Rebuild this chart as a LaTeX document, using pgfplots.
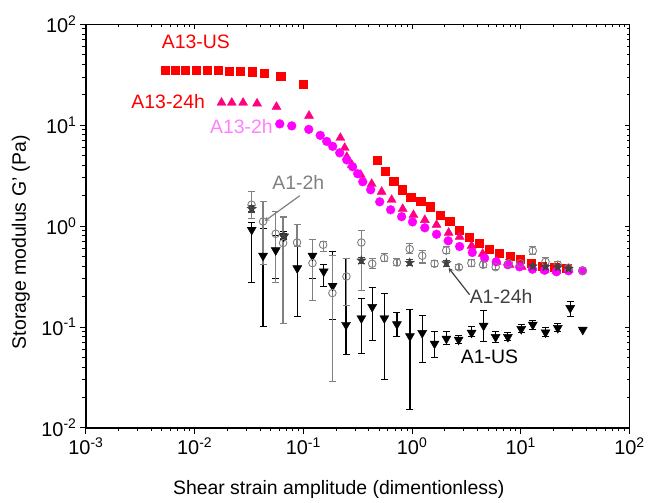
\documentclass[border=0pt]{standalone}
\usepackage{fontspec}
\setmainfont{Liberation Sans}
\usepackage{pgfplots}
\usepackage{pgfplotstable}
\pgfplotsset{compat=1.18}
\definecolor{a13us}{RGB}{255,0,0}
\definecolor{a13usbar}{RGB}{255,110,110}
\definecolor{a1324}{RGB}{255,0,128}
\definecolor{a132}{RGB}{255,0,255}
\definecolor{a132lab}{RGB}{255,128,255}
\definecolor{a12}{RGB}{128,128,128}
\definecolor{a124}{RGB}{64,64,64}

\pgfdeclareplotmark{fstar}{%
\pgfpathmoveto{\pgfpointpolar{90}{\pgfplotmarksize}}%
\pgfpathlineto{\pgfpointpolar{126}{0.42\pgfplotmarksize}}%
\pgfpathlineto{\pgfpointpolar{162}{\pgfplotmarksize}}%
\pgfpathlineto{\pgfpointpolar{198}{0.42\pgfplotmarksize}}%
\pgfpathlineto{\pgfpointpolar{234}{\pgfplotmarksize}}%
\pgfpathlineto{\pgfpointpolar{270}{0.42\pgfplotmarksize}}%
\pgfpathlineto{\pgfpointpolar{306}{\pgfplotmarksize}}%
\pgfpathlineto{\pgfpointpolar{342}{0.42\pgfplotmarksize}}%
\pgfpathlineto{\pgfpointpolar{18}{\pgfplotmarksize}}%
\pgfpathlineto{\pgfpointpolar{54}{0.42\pgfplotmarksize}}%
\pgfpathclose
\pgfusepathqfillstroke}

\pgfplotstableread{
x y ep em
0.00540 35.3 0 0
0.00658 35.3 0 0
0.00825 35.3 0 0
0.01041 35.2 0 0
0.01303 35.0 0 0
0.01634 34.8 0 0
0.02063 34.5 0 0
0.02603 34.3 0 0
0.0338 33.9 0 0
0.0439 32.7 0 0
0.0620 30.3 0 0
0.0994 25.6 0 0
0.480 4.53 0.36 0.48
0.564 3.47 0.30 0.30
0.678 2.81 0.25 0.25
0.807 2.29 0.20 0.20
0.970 1.94 0 0
1.20 1.75 0 0
1.47 1.56 0 0
1.82 1.29 0 0
2.22 1.11 0 0
2.70 0.919 0 0
3.33 0.778 0 0
4.12 0.679 0 0
5.09 0.592 0 0
6.38 0.541 0 0
8.00 0.500 0 0
9.89 0.471 0 0
12.5 0.430 0 0
15.8 0.404 0 0
20.5 0.395 0 0
26.4 0.386 0 0
}\tAUS

\pgfplotstableread{
x y
0.01767 16.7
0.02197 16.7
0.02791 16.7
0.03753 16.4
0.0566 15.2
0.1128 12.4
0.219 7.49
0.240 5.96
0.251 4.85
0.279 4.05
0.337 3.22
0.425 2.62
0.525 2.19
0.649 1.82
0.820 1.48
1.03 1.29
1.31 1.15
1.68 1.03
2.17 0.859
2.74 0.783
3.53 0.638
4.46 0.532
5.99 0.443
7.89 0.414
10.2 0.395
12.8 0.386
16.6 0.369
21.3 0.361
27.5 0.369
}\tATF

\pgfplotstableread{
x y
0.0607 10.3
0.0782 9.84
0.1121 9.09
0.1430 7.93
0.164 6.91
0.186 6.17
0.216 5.32
0.251 4.53
0.284 3.87
0.316 3.30
0.352 2.75
0.416 2.29
0.504 1.74
0.635 1.45
0.802 1.24
1.01 1.10
1.31 0.962
1.68 0.830
2.15 0.715
2.74 0.628
3.58 0.548
4.65 0.482
5.95 0.443
7.61 0.414
9.75 0.395
12.8 0.374
16.6 0.365
21.3 0.353
27.5 0.361
37.0 0.361
}\tATW

\pgfplotstableread{
x y ep em
0.0335 0.919 0.161 0.644
0.0426 0.508 0.432 0.407
0.0557 0.576 0.226 0.275
0.0661 0.789 0.090 0.057
0.0879 0.382 0.246 0.255
0.1213 0.508 0.224 0.207
0.154 0.355 0.059 0.104
0.186 0.256 0.301 0.138
0.247 0.105 0.369 0.0518
0.342 0.122 0.069 0.0676
0.430 0.158 0.090 0.0848
0.556 0.122 0.092 0.0919
0.726 0.1066 0.0324 0.0264
0.956 0.0811 0.0669 0.0659
1.24 0.0872 0.0418 0.0429
1.61 0.0684 0.0215 0.0187
2.07 0.0766 0.0133 0.0098
2.68 0.0749 0.0071 0.0065
3.53 0.0878 0.0129 0.0076
4.55 0.1030 0.0423 0.0315
5.87 0.0796 0.0103 0.0097
7.61 0.0796 0.0082 0.0064
10.1 0.0955 0.0095 0.0077
12.9 0.1054 0.0100 0.0112
16.9 0.0884 0.0101 0.0082
21.9 0.0977 0.0103 0.0078
28.5 0.1542 0.0238 0.0272
37.2 0.0940 0 0
}\tBUS

\pgfplotstableread{
x y ep em
0.0334 1.63 0.57 0.45
0.0426 1.11 0.64 0.696
0.0557 0.839 0.551 0.564
0.0651 0.679 0.551 0.571
0.0875 0.688 0.342 0.064
0.1213 0.430 0.302 0.248
0.152 0.653 0.051 0.096
0.185 0.217 0.291 0.1883
0.249 0.317 0.157 0.154
0.342 0.688 0.217 0.458
0.430 0.424 0.050 0.046
0.554 0.482 0.050 0.039
0.726 0.436 0.038 0.032
0.951 0.592 0.076 0.060
1.24 0.508 0.065 0.078
1.61 0.424 0.029 0.029
2.06 0.573 0.051 0.041
2.70 0.391 0.023 0.022
3.51 0.430 0.034 0.035
4.50 0.414 0.029 0.028
5.87 0.392 0.032 0.023
7.77 0.428 0.036 0.033
9.89 0.428 0.036 0.033
12.9 0.569 0.055 0.049
16.9 0.443 0.043 0.039
21.9 0.414 0.029 0.028
27.5 0.386 0.028 0.025
37.2 0.361 0.025 0.024
}\tBTW

\pgfplotstableread{
x y ep em
0.0335 1.48 0.10 0.10
0.0661 0.80 0.05 0.05
0.342 0.457 0.03 0.03
0.951 0.433 0.03 0.03
2.07 0.430 0.03 0.03
12.9 0.400 0.025 0.025
16.9 0.395 0.025 0.025
21.9 0.391 0.025 0.025
27.5 0.378 0.02 0.02
}\tBTF

\begin{document}
\begin{tikzpicture}
\begin{axis}[
  width=544bp, height=404bp, scale only axis,
  xmode=log, ymode=log,
  xmin=1e-3, xmax=1e2, ymin=1e-2, ymax=1e2,
  xtick={1e-3,1e-2,1e-1,1,1e1,1e2},
  ytick={1e-2,1e-1,1,1e1,1e2},
  minor xtick={2e-3,3e-3,4e-3,5e-3,6e-3,7e-3,8e-3,9e-3,0.02,0.03,0.04,0.05,0.06,0.07,0.08,0.09,0.2,0.3,0.4,0.5,0.6,0.7,0.8,0.9,2,3,4,5,6,7,8,9,20,30,40,50,60,70,80,90},
  minor ytick={0.02,0.03,0.04,0.05,0.06,0.07,0.08,0.09,0.2,0.3,0.4,0.5,0.6,0.7,0.8,0.9,2,3,4,5,6,7,8,9,20,30,40,50,60,70,80,90},
  axis line style={line width=1.2bp},
  tick style={black, line width=1bp},
  major tick length=6bp, minor tick length=3.5bp,
  tick align=outside, xtick pos=left, ytick pos=left,
  xticklabels={10\textsuperscript{-3},10\textsuperscript{-2},10\textsuperscript{-1},10\textsuperscript{0},10\textsuperscript{1},10\textsuperscript{2}},
  yticklabels={10\textsuperscript{-2},10\textsuperscript{-1},10\textsuperscript{0},10\textsuperscript{1},10\textsuperscript{2}},
  ticklabel style={font=\fontsize{20}{24}\selectfont},
  xlabel={Shear strain amplitude (dimentionless)},
  ylabel={Storage modulus G' (Pa)},
  label style={font=\fontsize{19.5}{23}\selectfont},
  xlabel style={at={(axis description cs:0.465,-0.152)}, anchor=center},
  ylabel style={at={(axis description cs:-0.1195,0.46)}, anchor=center},
  clip=false,
]
\path (axis description cs:-0.1581,-0.1849) rectangle (axis description cs:1.0331,1.0601);

\addplot[only marks, mark=square*, mark size=4.1bp, color=a13us,
  error bars/y dir=both, error bars/y explicit,
  error bars/error bar style={line width=1.1bp, a13usbar},
  error bars/error mark options={rotate=90, mark size=3.6bp, line width=1.1bp, a13usbar}]
  table[x=x, y=y, y error plus=ep, y error minus=em]{\tAUS};
\addplot[only marks, mark=triangle*, mark size=5.2bp, color=a1324] table[x=x, y=y]{\tATF};
\addplot[only marks, mark=*, mark size=4.4bp, color=a132] table[x=x, y=y]{\tATW};

\addplot[only marks, mark=triangle*, mark size=5.2bp, mark options={rotate=180}, color=black,
  error bars/y dir=both, error bars/y explicit,
  error bars/error bar style={line width=1.2bp, black},
  error bars/error mark options={rotate=90, mark size=3.5bp, line width=1.2bp, black}]
  table[x=x, y=y, y error plus=ep, y error minus=em]{\tBUS};
\addplot[only marks, mark=o, mark size=3.8bp, mark options={line width=0.9bp}, color=a12,
  error bars/y dir=both, error bars/y explicit,
  error bars/error bar style={line width=1.2bp, a12},
  error bars/error mark options={rotate=90, mark size=3.5bp, line width=1.2bp, a12}]
  table[x=x, y=y, y error plus=ep, y error minus=em]{\tBTW};
\addplot[only marks, mark=fstar, mark size=4.8bp, color=a124,
  error bars/y dir=both, error bars/y explicit,
  error bars/error bar style={line width=1.1bp, a124},
  error bars/error mark options={rotate=90, mark size=3.5bp, line width=1.1bp, a124}]
  table[x=x, y=y, y error plus=ep, y error minus=em]{\tBTF};

\node[text=a13us, font=\fontsize{19.5}{23}\selectfont] at (axis cs:0.01026,67.2) {A13-US};
\node[text=a13us, font=\fontsize{19.5}{23}\selectfont] at (axis cs:0.00571,17.1) {A13-24h};
\node[text=a132lab, font=\fontsize{19.5}{23}\selectfont] at (axis cs:0.0269,9.62) {A13-2h};
\node[text=a12, font=\fontsize{19.5}{23}\selectfont] at (axis cs:0.0897,2.68) {A1-2h};
\node[text=a124, font=\fontsize{19.5}{23}\selectfont] at (axis cs:6.59,0.201) {A1-24h};
\node[text=black, font=\fontsize{19.5}{23}\selectfont] at (axis cs:5.16,0.0512) {A1-US};
\draw[a12, line width=1.2bp, -stealth] (axis cs:0.0927,2.0) -- (axis cs:0.0440,1.12);
\draw[a124, line width=1.2bp, -stealth] (axis cs:3.38,0.209) -- (axis cs:2.17,0.385);
\end{axis}
\begin{axis}[
  width=544bp, height=404bp, scale only axis,
  xmode=log, ymode=log,
  xmin=1e-3, xmax=1e2, ymin=1e-2, ymax=1e2,
  xtick={1e-3,1e-2,1e-1,1,1e1,1e2},
  ytick={1e-2,1e-1,1,1e1,1e2},
  minor xtick={2e-3,3e-3,4e-3,5e-3,6e-3,7e-3,8e-3,9e-3,0.02,0.03,0.04,0.05,0.06,0.07,0.08,0.09,0.2,0.3,0.4,0.5,0.6,0.7,0.8,0.9,2,3,4,5,6,7,8,9,20,30,40,50,60,70,80,90},
  minor ytick={0.02,0.03,0.04,0.05,0.06,0.07,0.08,0.09,0.2,0.3,0.4,0.5,0.6,0.7,0.8,0.9,2,3,4,5,6,7,8,9,20,30,40,50,60,70,80,90},
  axis line style={line width=1.2bp},
  tick style={black, line width=0.9bp},
  major tick length=5bp, minor tick length=3bp,
  tick align=inside, xtick pos=right, ytick pos=right,
  xticklabels={}, yticklabels={}]
\end{axis}
\end{tikzpicture}
\end{document}
